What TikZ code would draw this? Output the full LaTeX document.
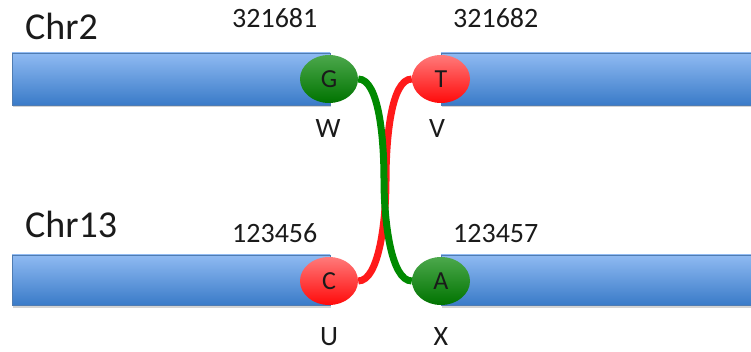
\documentclass[tikz,border=0pt]{standalone}
\usepackage{fontspec}
\setmainfont{Carlito}
\usetikzlibrary{shapes.geometric,shadows,backgrounds}
\definecolor{barTop}{HTML}{8FBAF2}
\definecolor{barBot}{HTML}{3A7BC8}
\definecolor{grTop}{HTML}{4CA84C}
\definecolor{grBot}{HTML}{007300}
\definecolor{rdTop}{HTML}{FF7A7A}
\definecolor{rdBot}{HTML}{FF0A0A}
\definecolor{grLine}{HTML}{008A00}
\definecolor{rdLine}{HTML}{FF1A1A}
\definecolor{txt}{HTML}{1A1A1A}
\tikzset{
  chrbar/.style={top color=barTop, bottom color=barBot, draw=barBot!70!gray, line width=0.4pt,
    drop shadow={opacity=0.35, shadow xshift=1pt, shadow yshift=-2.5pt}},
  base/.style={ellipse, minimum width=58pt, minimum height=48pt, inner sep=0pt,
    font=\fontsize{26}{30}\selectfont, text=txt},
  gbase/.style={base, top color=grTop, bottom color=grBot},
  rbase/.style={base, top color=rdTop, bottom color=rdBot},
  big/.style={font=\fontsize{38}{44}\selectfont, text=txt, inner sep=0pt, anchor=base west},
  num/.style={font=\fontsize{28}{32}\selectfont, text=txt, inner sep=0pt, anchor=base west},
  lab/.style={font=\fontsize{28}{32}\selectfont, text=txt, inner sep=0pt},
  link/.style={line width=7pt}
}
\begin{document}
\begin{tikzpicture}[x=1pt,y=-1pt]
\useasboundingbox (0,0) rectangle (751,352);
% ellipses
\node[gbase] (G) at (329,79) {G};
\node[rbase] (T) at (441,79) {T};
\node[rbase] (C) at (329,281) {C};
\node[gbase] (A) at (441,281) {A};
\coordinate (gmid) at (384,180);
\coordinate (rmid) at (386,180);
\begin{pgfonlayer}{background}
  \path[chrbar] (12,53) rectangle (330,105);
  \path[chrbar] (441,53) rectangle (751,105);
  \path[chrbar] (12,255) rectangle (330,305);
  \path[chrbar] (441,255) rectangle (751,305);
  \draw[link, rdLine] (T.west) .. controls +(-21,0) and +(0,-40) .. (rmid)
        .. controls +(0,40) and +(21,0) .. (C.east);
  \draw[link, grLine] (G.east) .. controls +(21,0) and +(0,-40) .. (gmid)
        .. controls +(0,40) and +(-21,0) .. (A.west);
\end{pgfonlayer}
% texts
\node[big] (chr2) at (25,40) {Chr2};
\node[big] (chr13) at (25,238) {Chr13};
\node[num] (n1) at (232,28) {321681};
\node[num] (n2) at (453,28) {321682};
\node[num] (n3) at (232,243) {123456};
\node[num] (n4) at (453,243) {123457};
\node[lab] (W) at (328,129) {W};
\node[lab] (V) at (437,129) {V};
\node[lab] (U) at (329,337) {U};
\node[lab] (X) at (441,337) {X};
\end{tikzpicture}
\end{document}
